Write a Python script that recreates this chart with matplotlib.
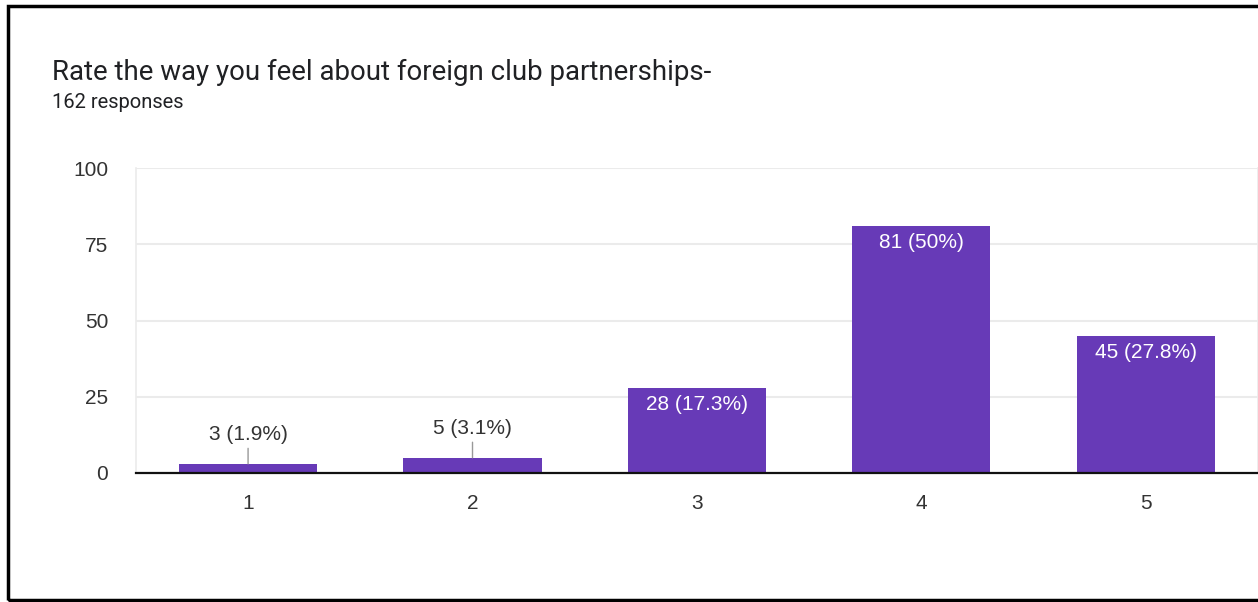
import matplotlib.pyplot as plt
from matplotlib.patches import Rectangle

plt.rcParams.update({
    "font.family": ["Liberation Sans", "DejaVu Sans"],
    "font.size": 15,
})

# rating -> number of responses
ratings = ["1", "2", "3", "4", "5"]
counts = [3, 5, 28, 81, 45]
percents = ["1.9%", "3.1%", "17.3%", "50%", "27.8%"]
total_responses = 162

title = "Rate the way you feel about foreign club partnerships-"
subtitle = f"{total_responses} responses"
y_ticks = [0, 25, 50, 75, 100]

bar_color = "#673AB7"
grid_color = "#EBEBEB"
text_color = "#333333"

fig = plt.figure(figsize=(12.58, 6.02), dpi=100)
ax = fig.add_axes([0.108, 0.2143, 0.892, 0.5066])

x_pos = list(range(1, len(ratings) + 1))
ax.bar(x_pos, counts, width=0.615, color=bar_color, zorder=3)

ax.set_xlim(0.5, len(ratings) + 0.5)
ax.set_ylim(0, 100)
ax.set_yticks(y_ticks)
ax.set_xticks(x_pos)
ax.set_xticklabels(ratings)

for y in y_ticks[1:]:
    ax.axhline(y, color=grid_color, linewidth=1.5, zorder=1)
ax.axhline(0, color="#111111", linewidth=1.6, zorder=4, clip_on=False)

for side in ("top", "bottom"):
    ax.spines[side].set_visible(False)
for side in ("left", "right"):
    ax.spines[side].set_color(grid_color)
    ax.spines[side].set_linewidth(1.2)

ax.tick_params(axis="both", length=0, labelsize=15, colors=text_color)
ax.tick_params(axis="y", pad=20)
ax.tick_params(axis="x", pad=15)

# value labels: inside the bar when tall enough, otherwise above with a leader line
for x, c, p in zip(x_pos, counts, percents):
    label = f"{c} ({p})"
    if c >= 10:
        ax.annotate(label, xy=(x, c), xytext=(0, -5), textcoords="offset points",
                    ha="center", va="top", color="white", fontsize=15, zorder=5)
    else:
        ax.annotate(label, xy=(x, c), xytext=(0, 21), textcoords="offset points",
                    ha="center", va="center", color=text_color, fontsize=15, zorder=5,
                    arrowprops=dict(arrowstyle="-", color="#999999", lw=1,
                                    shrinkA=1, shrinkB=0))

fig.text(52 / 1258, 1 - 72 / 602, title, fontsize=19.9, family="Roboto",
         color="#202124", va="center", ha="left")
fig.text(52 / 1258, 1 - 103 / 602, subtitle, fontsize=14.5, family="Roboto",
         color="#202124", va="center", ha="left")

# black frame around the card, running off the right edge
fig.add_artist(Rectangle((8 / 1258, 2 / 602), 1.05, 594 / 602,
                         transform=fig.transFigure, fill=False,
                         edgecolor="black", linewidth=2.5))

fig.savefig("out.png", dpi=100)
